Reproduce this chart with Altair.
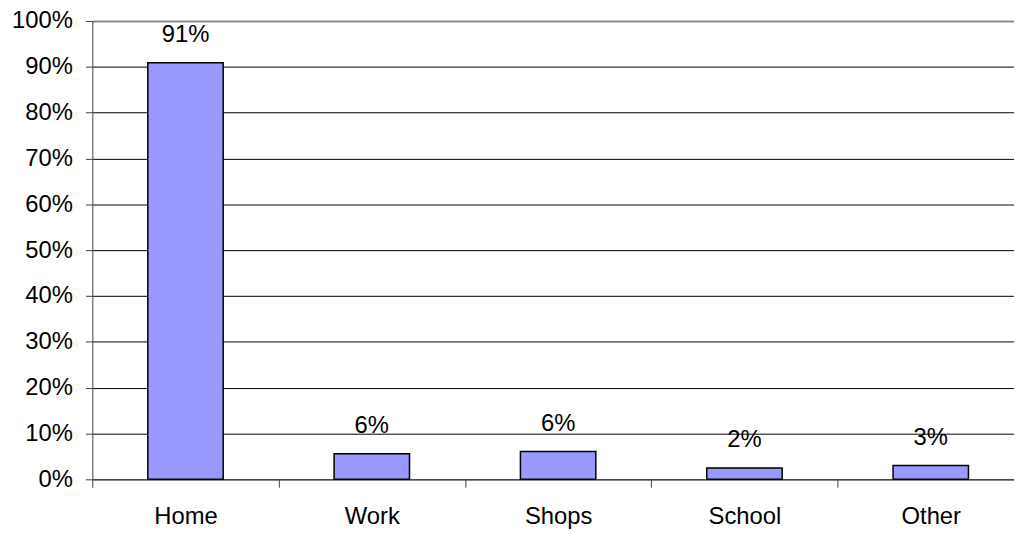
import altair as alt
import pandas as pd

categories = ["Home", "Work", "Shops", "School", "Other"]
shares = [0.909, 0.056, 0.061, 0.025, 0.030]
labels = ["91%", "6%", "6%", "2%", "3%"]
y_ticks = [0, 0.1, 0.2, 0.3, 0.4, 0.5, 0.6, 0.7, 0.8, 0.9, 1.0]

df = pd.DataFrame({"category": categories, "share": shares, "label": labels})

FONT = "Liberation Sans"

x = alt.X(
    "category:N",
    sort=categories,
    scale=alt.Scale(paddingInner=0, paddingOuter=0),
    axis=alt.Axis(
        title=None,
        labelAngle=0,
        tickBand="extent",
        tickSize=8,
        tickColor="#404040",
        domainColor="#404040",
        labelPadding=18,
        labelFontSize=24,
        labelFont=FONT,
        labelColor="black",
        grid=False,
    ),
)

y = alt.Y(
    "share:Q",
    scale=alt.Scale(domain=[0, 1], nice=False),
    axis=alt.Axis(
        title=None,
        values=y_ticks,
        format=".0%",
        tickSize=7,
        tickColor="#404040",
        domainColor="#404040",
        labelPadding=13,
        labelFontSize=24,
        labelFont=FONT,
        labelColor="black",
        grid=True,
        gridColor={"condition": {"test": "datum.value >= 1", "value": "#8c8c8c"}, "value": "black"},
        gridWidth={"condition": {"test": "datum.value >= 1", "value": 2}, "value": 1},
    ),
)

bars = alt.Chart(df).mark_bar(
    width=76, color="#9999FF", stroke="black", strokeWidth=1.5
).encode(x=x, y=y)

text = alt.Chart(df).mark_text(
    baseline="middle", align="center", dy=-28, fontSize=24, font=FONT, color="black"
).encode(x=alt.X("category:N", sort=categories), y=alt.Y("share:Q"), text="label:N")

chart = (
    alt.layer(bars, text)
    .properties(
        width=939,
        height=462,
        autosize=alt.AutoSizeParams(type="none"),
        padding={"left": 85, "top": 11, "right": -10, "bottom": 53},
        background="white",
    )
    .configure_view(stroke=None)
)

chart.save("out.html", embed_options={"renderer": "svg", "actions": False})
